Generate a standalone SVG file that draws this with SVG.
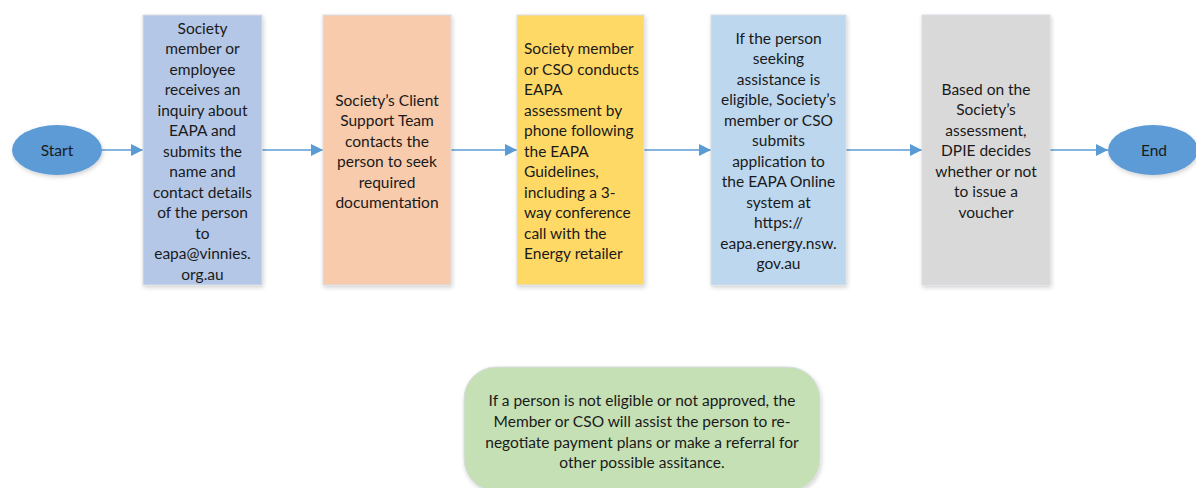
<svg xmlns="http://www.w3.org/2000/svg" width="1196" height="488" viewBox="0 0 1196 488">
<style>
text { font-family: Lato, "Open Sans", "Liberation Sans", sans-serif; font-size: 15.5px; fill: #1a1a1a; }
.c { text-anchor: middle; }
.l { text-anchor: start; }
.box { stroke: #d9dde3; stroke-width: 1; filter: url(#sh); }
.conn { stroke: #5B9BD5; stroke-width: 1.5; fill: none; marker-end: url(#arr); }
.ell { fill: #5B9BD5; filter: url(#sh); }
</style>
<defs>
<filter id="sh" x="-10%" y="-10%" width="130%" height="130%">
<feDropShadow dx="1" dy="2" stdDeviation="2" flood-color="#000" flood-opacity="0.18"/>
</filter>
<marker id="arr" markerWidth="12" markerHeight="12" refX="10" refY="5" orient="auto" markerUnits="userSpaceOnUse" viewBox="0 0 10 10">
<path d="M0,0 L10,5 L0,10 z" fill="#5B9BD5"/>
</marker>
</defs>
<g id="connectors">
<line class="conn" x1="102" y1="150" x2="143" y2="150"/>
<line class="conn" x1="262" y1="150" x2="323" y2="150"/>
<line class="conn" x1="451" y1="150" x2="517" y2="150"/>
<line class="conn" x1="644" y1="150" x2="711" y2="150"/>
<line class="conn" x1="846" y1="150" x2="922" y2="150"/>
<line class="conn" x1="1050" y1="150" x2="1108" y2="150"/>
</g>
<g id="start">
<ellipse class="ell" cx="57" cy="150" rx="45" ry="25"/>
<text class="c" x="57" y="155.5">Start</text>
</g>
<g id="step1">
<rect class="box" x="143" y="15" width="119" height="270" fill="#B4C7E7"/>
<text class="c" x="202.5" y="33.5">Society</text>
<text class="c" x="202.5" y="54">member or</text>
<text class="c" x="202.5" y="74.5">employee</text>
<text class="c" x="202.5" y="95">receives an</text>
<text class="c" x="202.5" y="115.5">inquiry about</text>
<text class="c" x="202.5" y="136">EAPA and</text>
<text class="c" x="202.5" y="156.5">submits the</text>
<text class="c" x="202.5" y="177">name and</text>
<text class="c" x="202.5" y="197.5">contact details</text>
<text class="c" x="202.5" y="218">of the person</text>
<text class="c" x="202.5" y="238.5">to</text>
<text class="c" x="202.5" y="259">eapa@vinnies.</text>
<text class="c" x="202.5" y="279.5">org.au</text>
</g>
<g id="step2">
<rect class="box" x="323" y="15" width="128" height="270" fill="#F8CBAD"/>
<text class="c" x="387" y="105.5">Society’s Client</text>
<text class="c" x="387" y="126">Support Team</text>
<text class="c" x="387" y="146.5">contacts the</text>
<text class="c" x="387" y="167">person to seek</text>
<text class="c" x="387" y="187.5">required</text>
<text class="c" x="387" y="208">documentation</text>
</g>
<g id="step3">
<rect class="box" x="517" y="15" width="127" height="270" fill="#FFD966"/>
<text class="l" x="524" y="54">Society member</text>
<text class="l" x="524" y="74.5">or CSO conducts</text>
<text class="l" x="524" y="95">EAPA</text>
<text class="l" x="524" y="115.5">assessment by</text>
<text class="l" x="524" y="136">phone following</text>
<text class="l" x="524" y="156.5">the EAPA</text>
<text class="l" x="524" y="177">Guidelines,</text>
<text class="l" x="524" y="197.5">including a 3-</text>
<text class="l" x="524" y="218">way conference</text>
<text class="l" x="524" y="238.5">call with the</text>
<text class="l" x="524" y="259">Energy retailer</text>
</g>
<g id="step4">
<rect class="box" x="711" y="15" width="135" height="270" fill="#BDD7EE"/>
<text class="c" x="778.5" y="43.5">If the person</text>
<text class="c" x="778.5" y="64">seeking</text>
<text class="c" x="778.5" y="84.5">assistance is</text>
<text class="c" x="778.5" y="105">eligible, Society’s</text>
<text class="c" x="778.5" y="125.5">member or CSO</text>
<text class="c" x="778.5" y="146">submits</text>
<text class="c" x="778.5" y="166.5">application to</text>
<text class="c" x="778.5" y="187">the EAPA Online</text>
<text class="c" x="778.5" y="207.5">system at</text>
<text class="c" x="778.5" y="228">https://</text>
<text class="c" x="778.5" y="248.5">eapa.energy.nsw.</text>
<text class="c" x="778.5" y="269">gov.au</text>
</g>
<g id="step5">
<rect class="box" x="922" y="15" width="128" height="270" fill="#D9D9D9"/>
<text class="c" x="986" y="94.5">Based on the</text>
<text class="c" x="986" y="115">Society’s</text>
<text class="c" x="986" y="135.5">assessment,</text>
<text class="c" x="986" y="156">DPIE decides</text>
<text class="c" x="986" y="176.5">whether or not</text>
<text class="c" x="986" y="197">to issue a</text>
<text class="c" x="986" y="217.5">voucher</text>
</g>
<g id="end">
<ellipse class="ell" cx="1153" cy="150" rx="45" ry="25"/>
<text class="c" x="1154" y="155.5">End</text>
</g>
<g id="note">
<rect class="box" x="464" y="367" width="356" height="124" rx="32" ry="32" fill="#C5E0B4"/>
<text class="c" x="642" y="405.5">If a person is not eligible or not approved, the</text>
<text class="c" x="642" y="426.5">Member or CSO will assist the person to re-</text>
<text class="c" x="642" y="447.5">negotiate payment plans or make a referral for</text>
<text class="c" x="642" y="467.5">other possible assitance.</text>
</g>
</svg>
